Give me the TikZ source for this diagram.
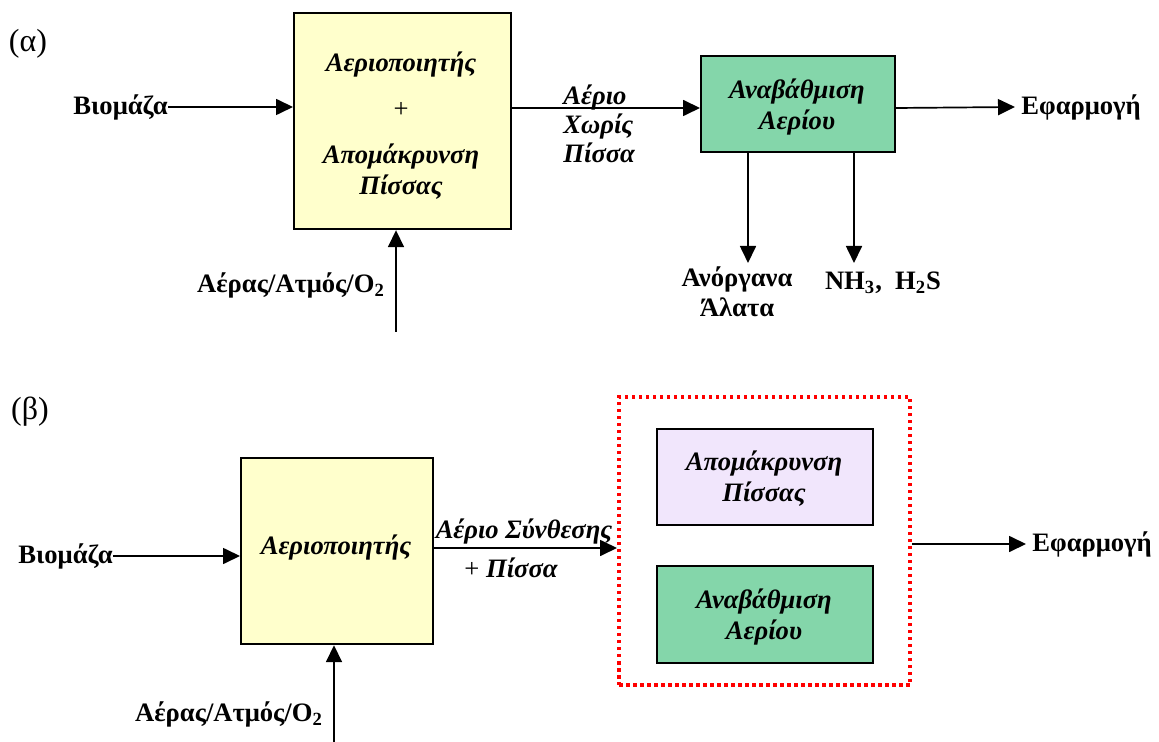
\documentclass[tikz,border=0pt]{standalone}
\usepackage{fontspec}
\setmainfont{Liberation Serif}
\usetikzlibrary{arrows.meta}
\definecolor{boxyellow}{RGB}{255,255,204}
\definecolor{boxgreen}{RGB}{132,214,170}
\definecolor{boxlilac}{RGB}{241,230,252}
\definecolor{dotred}{RGB}{255,0,0}
\begin{document}
\begin{tikzpicture}[x=0.5pt,y=-0.5pt,
  every node/.style={inner sep=0pt, font=\fontsize{13.3}{15.5}\selectfont},
  plain/.style={font=\fontsize{13.3}{15.5}\selectfont},
  tag/.style={font=\fontsize{16}{18}\selectfont},
  lbl/.style={font=\fontsize{13.3}{15}\selectfont\bfseries, align=center},
  ilbl/.style={font=\fontsize{13.3}{15.5}\selectfont\bfseries\itshape, align=center},
  blk/.style 2 args={draw=black, line width=1.1pt, rectangle, anchor=north west,
    minimum width=#1, minimum height=#2},
  arr/.style={-{Triangle[length=8.5pt,width=8pt]}, line width=0.85pt},
  grp/.style={draw=dotred, line width=2.1pt, dash pattern=on 1.7pt off 1.8pt}
]
\useasboundingbox (0,0) rectangle (1159,742);

% ---------- (α) ----------
\node[tag] (tagA) at (28,44) {(α)};

\node[blk={108.5pt}{108pt}, fill=boxyellow] (box1) at (293,12) {};
\node[ilbl] (b1a) at (401,65) {Αεριοποιητής};
\node[plain] (b1b) at (401,110) {+};
\node[ilbl] (b1c) at (401,172) {Απομάκρυνση\\Πίσσας};

\node[blk={97pt}{48pt}, fill=boxgreen] (g1) at (700,55) {};
\node[ilbl] (g1t) at (797,107) {Αναβάθμιση\\Αερίου};

\coordinate (r1) at (0,108);
\node[lbl, anchor=east] (bio1) at (168,107) {Βιομάζα};
\draw[arr] (bio1.east) -- (bio1.east -| box1.west);

\draw[arr] (box1.east |- r1) -- (g1.west |- r1);
\node[ilbl, anchor=west, align=left, font=\fontsize{13.3}{14.5}\selectfont\bfseries\itshape] (gas1) at (563,124) {Αέριο\\Χωρίς\\Πίσσα};

\node[lbl, anchor=west] (app1) at (1021,107) {Εφαρμογή};
\draw[arr] (g1.east |- r1) -- ([xshift=-3pt]app1.west);

\coordinate (d1) at (748,263);
\coordinate (d2) at (854,263);
\draw[arr] (g1.south -| d1) -- (d1);
\draw[arr] (g1.south -| d2) -- (d2);
\node[lbl] (salt) at (737,292) {Ανόργανα\\Άλατα};
\node[lbl] (nh) at (883,283) {NH\textsubscript{3},\ \ H\textsubscript{2}S};

\node[lbl] (air1) at (291,285) {Αέρας/Ατμός/O\textsubscript{2}};
\coordinate (u1) at (396,332);
\draw[arr] (u1) -- (u1 |- box1.south);

% ---------- (β) ----------
\node[tag] (tagB) at (30,412) {(β)};

\node[blk={96pt}{93pt}, fill=boxyellow] (box2) at (240,457) {};
\node[ilbl] (b2t) at (336,548) {Αεριοποιητής};

\node[grp, rectangle, anchor=north west, minimum width=145.5pt, minimum height=144pt] (grp) at (617,395) {};
\node[blk={108pt}{48pt}, fill=boxlilac] (tar) at (656,428) {};
\node[ilbl] (tart) at (764,479) {Απομάκρυνση\\Πίσσας};
\node[blk={108pt}{48.5pt}, fill=boxgreen] (g2) at (656,565) {};
\node[ilbl] (g2t) at (764,617) {Αναβάθμιση\\Αερίου};

\node[lbl, anchor=east] (bio2) at (113,556) {Βιομάζα};
\draw[arr] (bio2.east) -- (bio2.east -| box2.west);

\coordinate (r2) at (0,548);
\draw[arr] (box2.east |- r2) -- (grp.west |- r2);
\node[ilbl] (gas2a) at (524,532) {Αέριο Σύνθεσης};
\node[ilbl] (gas2b) at (511,568) {{\mdseries\upshape +} Πίσσα};

\coordinate (r3) at (0,544);
\node[lbl, anchor=west] (app2) at (1032,544) {Εφαρμογή};
\draw[arr] (grp.east |- r3) -- ([xshift=-3pt]app2.west);

\node[lbl] (air2) at (229,714) {Αέρας/Ατμός/O\textsubscript{2}};
\coordinate (u2) at (334,742);
\draw[arr] (u2) -- (u2 |- box2.south);
\end{tikzpicture}
\end{document}
